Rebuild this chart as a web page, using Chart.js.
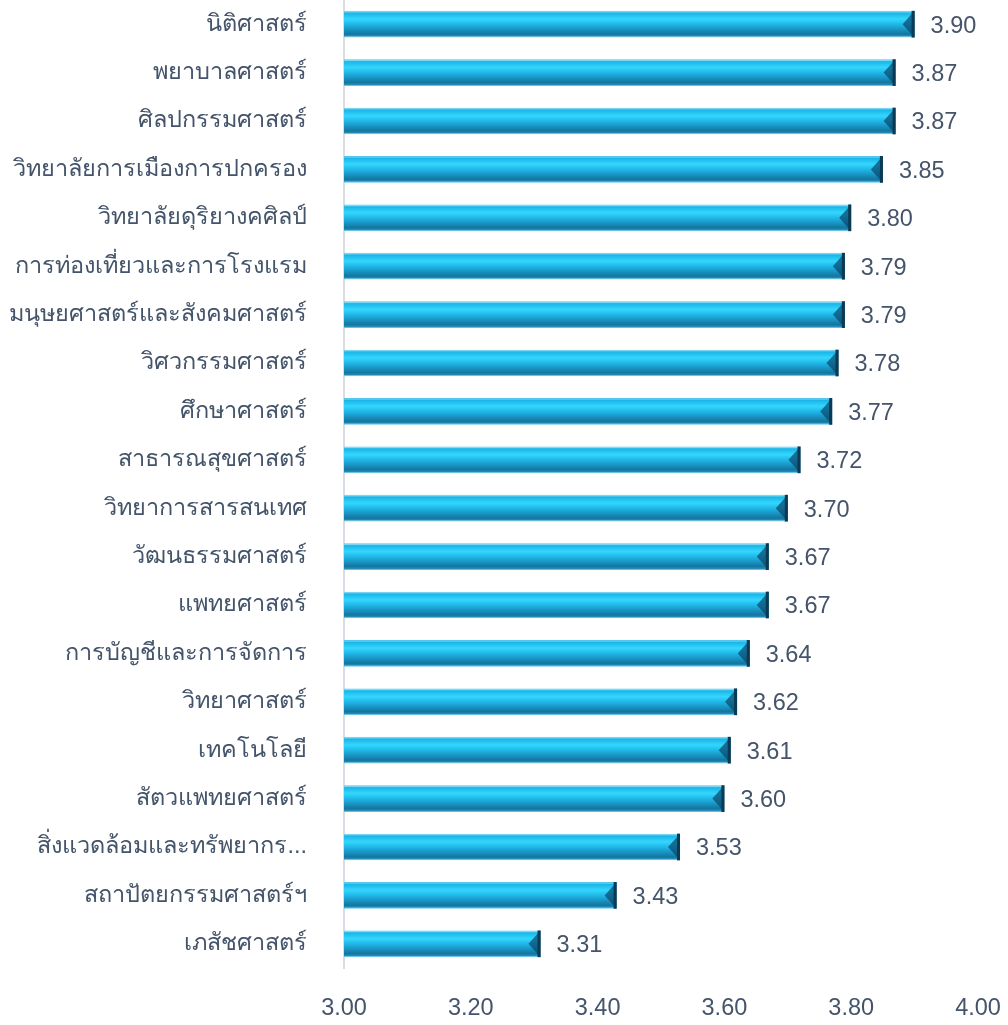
<!DOCTYPE html>
<html>
<head>
<meta charset="utf-8">
<script src="https://cdn.jsdelivr.net/npm/chart.js@4.4.1/dist/chart.umd.min.js"></script>
<style>
  html, body { margin: 0; padding: 0; background: #fff; }
  #wrap { width: 1008px; height: 1025px; position: relative; }
</style>
</head>
<body>
<div id="wrap"><canvas id="chart"></canvas></div>
<script>
(function () {
  "use strict";

  var faculties = [
    "นิติศาสตร์", "พยาบาลศาสตร์", "ศิลปกรรมศาสตร์", "วิทยาลัยการเมืองการปกครอง",
    "วิทยาลัยดุริยางคศิลป์", "การท่องเที่ยวและการโรงแรม", "มนุษยศาสตร์และสังคมศาสตร์",
    "วิศวกรรมศาสตร์", "ศึกษาศาสตร์", "สาธารณสุขศาสตร์", "วิทยาการสารสนเทศ",
    "วัฒนธรรมศาสตร์", "แพทยศาสตร์", "การบัญชีและการจัดการ", "วิทยาศาสตร์",
    "เทคโนโลยี", "สัตวแพทยศาสตร์", "สิ่งแวดล้อมและทรัพยากร...", "สถาปัตยกรรมศาสตร์ฯ", "เภสัชศาสตร์"
  ];
  var scores = [3.90, 3.87, 3.87, 3.85, 3.80, 3.79, 3.79, 3.78, 3.77, 3.72,
                3.70, 3.67, 3.67, 3.64, 3.62, 3.61, 3.60, 3.53, 3.43, 3.31];
  var xMin = 3.0, xMax = 4.0, xStep = 0.2;

  var TEXT = "#44546a";
  var FONT = "'Liberation Sans', Tahoma, Arial, sans-serif";
  var FSIZE = 23.5;

  // vertical bevel gradient for each bar, built from the y scale
  function barFill(ctx) {
    var chart = ctx.chart;
    if (!chart.chartArea || !chart.scales.y) return "#1fb8e8";
    var el = chart.getDatasetMeta(0).data[ctx.dataIndex];
    var yc = chart.scales.y.getPixelForValue(ctx.dataIndex);
    var h = el && el.height ? el.height : 26;
    var g = chart.ctx.createLinearGradient(0, yc - h / 2, 0, yc + h / 2);
    g.addColorStop(0.00, "#8adcf6");
    g.addColorStop(0.08, "#1ab6e8");
    g.addColorStop(0.30, "#35d6fd");
    g.addColorStop(0.50, "#1fb8e8");
    g.addColorStop(0.70, "#1994c3");
    g.addColorStop(0.88, "#13769f");
    g.addColorStop(1.00, "#2e97c6");
    return g;
  }

  // bevel caps at both ends of each bar
  var bevel = {
    id: "bevel",
    afterDatasetDraw: function (chart) {
      var c = chart.ctx;
      chart.getDatasetMeta(0).data.forEach(function (b) {
        var top = b.y - b.height / 2, bot = b.y + b.height / 2, d = b.height / 2;
        c.save();
        c.fillStyle = "rgba(110,215,248,0.6)";
        c.beginPath();
        c.moveTo(b.base, top); c.lineTo(b.base + d * 0.8, b.y); c.lineTo(b.base, bot); c.closePath();
        c.fill();
        c.fillStyle = "rgba(10,70,105,0.7)";
        c.beginPath();
        c.moveTo(b.x, top); c.lineTo(b.x - d * 0.9, b.y); c.lineTo(b.x, bot); c.closePath();
        c.fill();
        c.fillStyle = "#0b3a55";
        c.fillRect(b.x - 3, top, 3, b.height);
        c.restore();
      });
    }
  };

  var valueLabels = {
    id: "valueLabels",
    afterDatasetsDraw: function (chart) {
      var c = chart.ctx;
      c.save();
      c.font = FSIZE + "px " + FONT;
      c.fillStyle = TEXT;
      c.textAlign = "left";
      c.textBaseline = "middle";
      chart.getDatasetMeta(0).data.forEach(function (b, i) {
        c.fillText(scores[i].toFixed(2), b.x + 16, b.y + 2);
      });
      c.restore();
    }
  };

  Chart.defaults.font.family = FONT;
  Chart.defaults.color = TEXT;

  new Chart(document.getElementById("chart"), {
    type: "bar",
    data: {
      labels: faculties,
      datasets: [{
        data: scores,
        backgroundColor: barFill,
        borderColor: "#56c6ee",
        borderWidth: 1,
        borderSkipped: false,
        barPercentage: 0.6,
        categoryPercentage: 0.92
      }]
    },
    options: {
      indexAxis: "y",
      responsive: true,
      maintainAspectRatio: false,
      animation: false,
      layout: { padding: { top: 0, right: 30, bottom: 0, left: 0 } },
      plugins: { legend: { display: false }, tooltip: { enabled: false } },
      scales: {
        x: {
          min: xMin, max: xMax,
          grid: { display: false, drawTicks: false },
          border: { display: false },
          ticks: {
            stepSize: xStep,
            padding: 26,
            font: { size: FSIZE },
            color: TEXT,
            callback: function (v) { return Number(v).toFixed(2); }
          },
          afterFit: function (s) { s.height = 57; s.paddingLeft = 0; s.paddingRight = 0; }
        },
        y: {
          grid: { display: false },
          border: { display: true, color: "#d9dde3", width: 2 },
          ticks: { padding: 29, font: { size: FSIZE }, color: TEXT, autoSkip: false },
          afterFit: function (s) { s.width = 344; s.paddingTop = 0; s.paddingBottom = 0; }
        }
      }
    },
    plugins: [bevel, valueLabels]
  });
})();
</script>
</body>
</html>
